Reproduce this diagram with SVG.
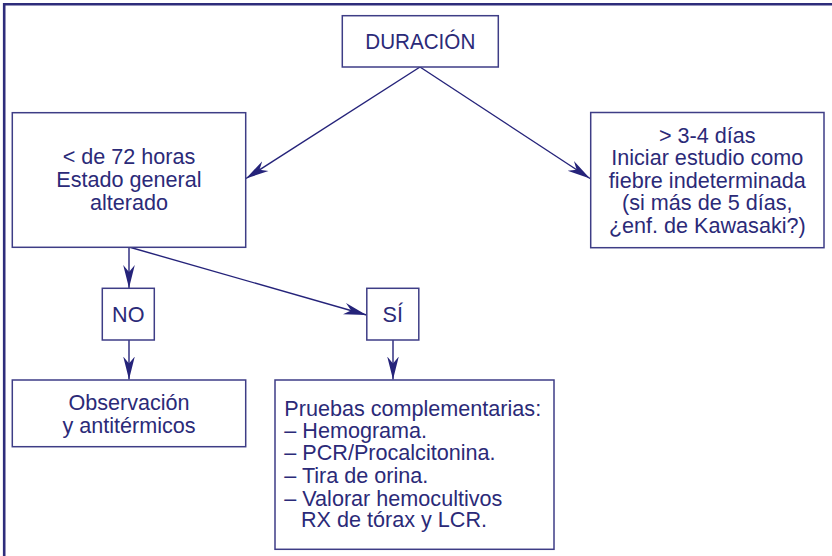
<svg xmlns="http://www.w3.org/2000/svg" width="832" height="556" viewBox="0 0 832 556">
<style>
.box{fill:#ffffff;stroke:#3e3d86;stroke-width:1.5}
.t{font-family:"Liberation Sans",Arial,sans-serif;font-size:21.6px;fill:#2b2a78}
.c{text-anchor:middle}
.ln{fill:none;stroke:#25237a;stroke-width:1.4}
</style>
<defs>
<marker id="ah" markerUnits="userSpaceOnUse" markerWidth="24" markerHeight="14" viewBox="-23 -7 24 14" refX="0" refY="0" orient="auto">
<path d="M0,0 L-23,-5.8 L-16,0 L-23,5.8 Z" fill="#25237a"/>
</marker>
</defs>
<rect width="832" height="556" fill="#ffffff"/>
<path d="M4.2,556 V4.3 H832" fill="none" stroke="#2e2d7b" stroke-width="2.6"/>
<g id="connectors">
<line class="ln" x1="420" y1="67" x2="246" y2="178.5" marker-end="url(#ah)"/>
<line class="ln" x1="420" y1="67" x2="590" y2="178.5" marker-end="url(#ah)"/>
<line class="ln" x1="129" y1="247" x2="129" y2="288" marker-end="url(#ah)"/>
<line class="ln" x1="129" y1="247" x2="366.5" y2="315" marker-end="url(#ah)"/>
<line class="ln" x1="129" y1="340" x2="129" y2="379.5" marker-end="url(#ah)"/>
<line class="ln" x1="393" y1="340" x2="393" y2="379.5" marker-end="url(#ah)"/>
</g>
<g id="duracion">
<rect class="box" x="342.3" y="15.7" width="156" height="51.3"/>
<text class="t c" x="420.3" y="49.3" style="font-size:22.5px" textLength="110" lengthAdjust="spacingAndGlyphs">DURACIÓN</text>
</g>
<g id="menos72">
<rect class="box" x="12.3" y="112.7" width="233.4" height="134.6"/>
<text class="t c" x="129" y="164.3">&lt; de 72 horas</text>
<text class="t c" x="129" y="187.3">Estado general</text>
<text class="t c" x="129" y="210">alterado</text>
</g>
<g id="mas34">
<rect class="box" x="590.7" y="112.5" width="233.3" height="135.2"/>
<text class="t c" x="707.3" y="142.7">&gt; 3-4 días</text>
<text class="t c" x="707.3" y="165">Iniciar estudio como</text>
<text class="t c" x="707.3" y="187.7">fiebre indeterminada</text>
<text class="t c" x="707.3" y="210">(si más de 5 días,</text>
<text class="t c" x="707.3" y="232.7">¿enf. de Kawasaki?)</text>
</g>
<g id="no">
<rect class="box" x="102.3" y="288.3" width="52" height="51.7"/>
<text class="t c" x="128.3" y="321.7">NO</text>
</g>
<g id="si">
<rect class="box" x="366.8" y="288.3" width="52" height="51.7"/>
<text class="t c" x="392.8" y="321.7">SÍ</text>
</g>
<g id="observacion">
<rect class="box" x="12.3" y="380" width="233.4" height="66.7"/>
<text class="t c" x="129" y="410">Observación</text>
<text class="t c" x="129" y="432.7">y antitérmicos</text>
</g>
<g id="pruebas">
<rect class="box" x="275" y="380" width="279" height="169.3"/>
<text class="t" x="284.3" y="416">Pruebas complementarias:</text>
<text class="t" x="284.3" y="438.3">– Hemograma.</text>
<text class="t" x="284.3" y="460">– PCR/Procalcitonina.</text>
<text class="t" x="284.3" y="482.7">– Tira de orina.</text>
<text class="t" x="284.3" y="505.7">– Valorar hemocultivos</text>
<text class="t" x="301" y="527.3">RX de tórax y LCR.</text>
</g>
</svg>
